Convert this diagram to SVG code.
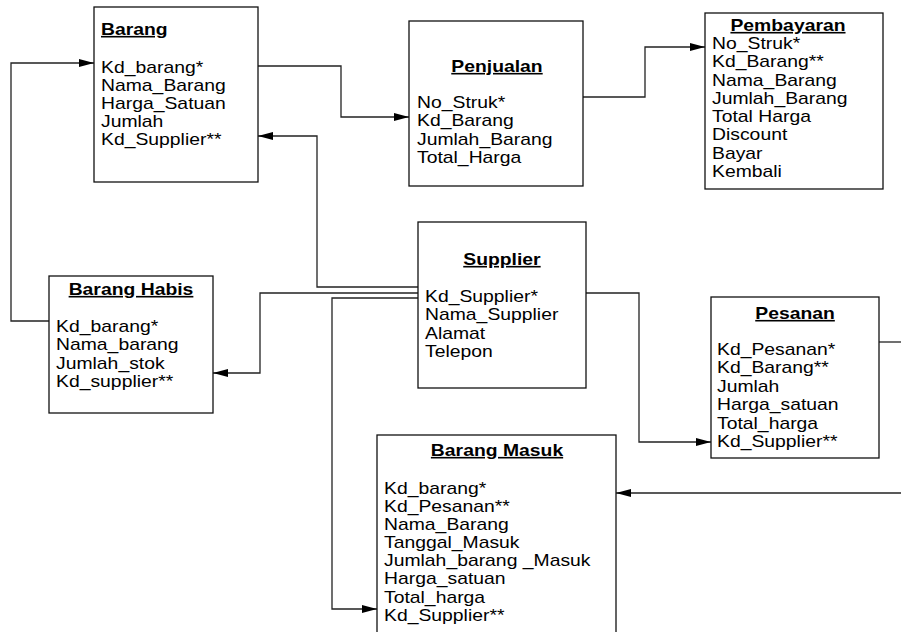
<svg xmlns="http://www.w3.org/2000/svg" width="901" height="632" viewBox="0 0 901 632">
<style>
.box{fill:#fff;stroke:#111;stroke-width:1.3}
text{font-family:"Liberation Sans",Arial,sans-serif;font-size:16px;fill:#000}
.t{font-weight:bold;text-decoration:underline}
.c{text-anchor:middle}
.ln{fill:none;stroke:#222;stroke-width:1.3}
</style>
<defs>
<marker id="ah" viewBox="0 0 15 8" refX="15" refY="4" markerWidth="15" markerHeight="8" markerUnits="userSpaceOnUse" orient="auto">
<path d="M0,0 L15,4 L0,8 z" fill="#000"/>
</marker>
</defs>
<rect width="901" height="632" fill="#fff"/>
<g id="connectors">
<path class="ln" d="M258,66 H341 V117 H409" marker-end="url(#ah)"/>
<path class="ln" d="M583,97 H645 V47 H705" marker-end="url(#ah)"/>
<path class="ln" d="M49,321 H11 V63 H94" marker-end="url(#ah)"/>
<path class="ln" d="M418,287 H317 V136 H258" marker-end="url(#ah)"/>
<path class="ln" d="M418,293 H260 V373 H213" marker-end="url(#ah)"/>
<path class="ln" d="M418,298 H332 V609 H377" marker-end="url(#ah)"/>
<path class="ln" d="M586,293 H639 V442 H711" marker-end="url(#ah)"/>
<path class="ln" d="M879,342 H901"/>
<path class="ln" d="M901,493 H616" marker-end="url(#ah)"/>
</g>
<g id="barang">
<rect class="box" x="94" y="7" width="164" height="175"/>
<g transform="translate(101,0) scale(1.21,1)">
<text class="t" x="0" y="35">Barang</text>
<text x="0" y="73">Kd_barang*</text>
<text x="0" y="91">Nama_Barang</text>
<text x="0" y="109">Harga_Satuan</text>
<text x="0" y="127">Jumlah</text>
<text x="0" y="145">Kd_Supplier**</text>
</g>
</g>
<g id="penjualan">
<rect class="box" x="409" y="21" width="174" height="165"/>
<g transform="translate(417,0) scale(1.21,1)">
<text class="t c" x="66.1" y="72">Penjualan</text>
<text x="0" y="108">No_Struk*</text>
<text x="0" y="126.3">Kd_Barang</text>
<text x="0" y="144.6">Jumlah_Barang</text>
<text x="0" y="162.9">Total_Harga</text>
</g>
</g>
<g id="pembayaran">
<rect class="box" x="705" y="13" width="178" height="176"/>
<g transform="translate(712,0) scale(1.21,1)">
<text class="t c" x="62.8" y="31">Pembayaran</text>
<text x="0" y="49">No_Struk*</text>
<text x="0" y="67.3">Kd_Barang**</text>
<text x="0" y="85.6">Nama_Barang</text>
<text x="0" y="103.9">Jumlah_Barang</text>
<text x="0" y="122.2">Total Harga</text>
<text x="0" y="140.5">Discount</text>
<text x="0" y="158.8">Bayar</text>
<text x="0" y="177.1">Kembali</text>
</g>
</g>
<g id="supplier">
<rect class="box" x="418" y="222" width="168" height="166"/>
<g transform="translate(425,0) scale(1.21,1)">
<text class="t c" x="63.6" y="265">Supplier</text>
<text x="0" y="302">Kd_Supplier*</text>
<text x="0" y="320.3">Nama_Supplier</text>
<text x="0" y="338.6">Alamat</text>
<text x="0" y="356.9">Telepon</text>
</g>
</g>
<g id="barang-habis">
<rect class="box" x="49" y="276" width="164" height="137"/>
<g transform="translate(56,0) scale(1.21,1)">
<text class="t c" x="62" y="295">Barang Habis</text>
<text x="0" y="332">Kd_barang*</text>
<text x="0" y="350.3">Nama_barang</text>
<text x="0" y="368.6">Jumlah_stok</text>
<text x="0" y="386.9">Kd_supplier**</text>
</g>
</g>
<g id="pesanan">
<rect class="box" x="711" y="297" width="168" height="161"/>
<g transform="translate(717,0) scale(1.21,1)">
<text class="t c" x="64.5" y="319">Pesanan</text>
<text x="0" y="355">Kd_Pesanan*</text>
<text x="0" y="373.4">Kd_Barang**</text>
<text x="0" y="391.8">Jumlah</text>
<text x="0" y="410.2">Harga_satuan</text>
<text x="0" y="428.6">Total_harga</text>
<text x="0" y="447">Kd_Supplier**</text>
</g>
</g>
<g id="barang-masuk">
<rect class="box" x="377" y="435" width="239" height="210"/>
<g transform="translate(384,0) scale(1.21,1)">
<text class="t c" x="93.4" y="456">Barang Masuk</text>
<text x="0" y="494">Kd_barang*</text>
<text x="0" y="512.1">Kd_Pesanan**</text>
<text x="0" y="530.2">Nama_Barang</text>
<text x="0" y="548.3">Tanggal_Masuk</text>
<text x="0" y="566.4">Jumlah_barang _Masuk</text>
<text x="0" y="584.5">Harga_satuan</text>
<text x="0" y="602.6">Total_harga</text>
<text x="0" y="620.7">Kd_Supplier**</text>
</g>
</g>
</svg>
